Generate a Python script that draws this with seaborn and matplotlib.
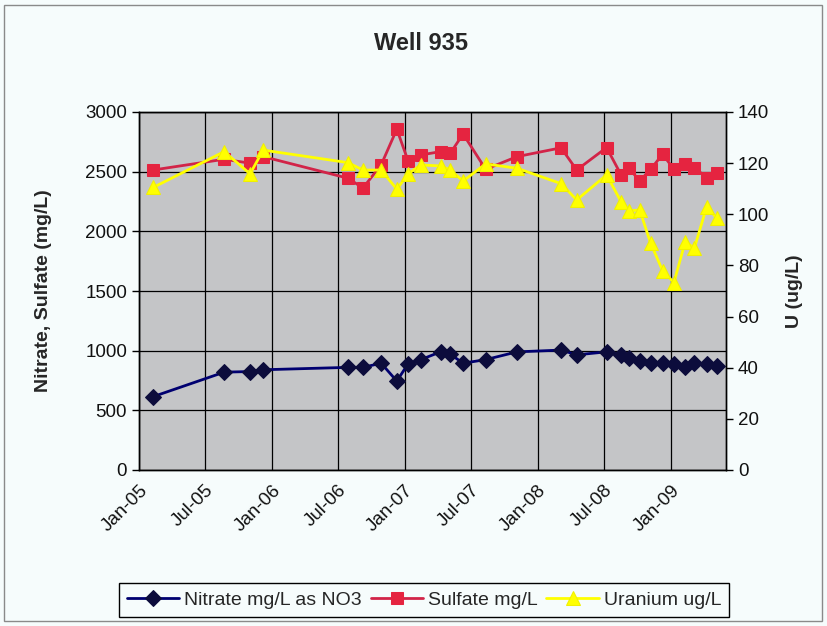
import matplotlib
matplotlib.use("Agg")
import matplotlib.pyplot as plt
import matplotlib.dates as mdates
from matplotlib.patches import Rectangle
import seaborn as sns
import pandas as pd

# Sampling dates for Well 935
sample_dates = [
    "2005-02-09", "2005-08-23", "2005-11-02", "2005-12-08",
    "2006-07-29", "2006-09-08", "2006-10-28", "2006-12-10",
    "2007-01-10", "2007-02-14", "2007-04-09", "2007-05-06",
    "2007-06-10", "2007-08-11", "2007-11-05", "2008-03-05",
    "2008-04-17", "2008-07-08", "2008-08-17", "2008-09-08",
    "2008-10-07", "2008-11-06", "2008-12-09", "2009-01-09",
    "2009-02-09", "2009-03-06", "2009-04-09", "2009-05-07",
]

# Concentrations (mg/L for nitrate and sulfate, ug/L for uranium)
nitrate = [615, 820, 825, 840, 860, 860, 895, 745, 890, 925, 990, 970,
           895, 925, 990, 1005, 965, 990, 965, 935, 915, 900, 900, 885,
           865, 900, 885, 870]
sulfate = [2514, 2604, 2571, 2626, 2445, 2363, 2557, 2856, 2590, 2640,
           2668, 2655, 2816, 2520, 2626, 2700, 2514, 2702, 2473, 2529,
           2422, 2520, 2646, 2520, 2565, 2534, 2450, 2487]
uranium = [110.5, 124.5, 115.8, 125.1, 120.2, 117.3, 117.3, 109.8, 115.8,
           119.3, 118.9, 117.3, 113.0, 119.7, 118.0, 112.0, 105.6, 115.4,
           104.9, 101.3, 101.7, 88.7, 77.9, 73.3, 89.3, 86.7, 103.0, 98.4]

series_labels = ["Nitrate mg/L as NO3", "Sulfate mg/L", "Uranium ug/L"]
left_ticks = [0, 500, 1000, 1500, 2000, 2500, 3000]
right_ticks = [0, 20, 40, 60, 80, 100, 120, 140]

df = pd.DataFrame({
    "date": pd.to_datetime(sample_dates),
    "nitrate": nitrate,
    "sulfate": sulfate,
    "uranium": uranium,
})

sns.set_style("white")
plt.rcParams["font.family"] = ["Liberation Sans", "DejaVu Sans"]

W, H = 828, 626
fig = plt.figure(figsize=(W / 100, H / 100), dpi=100)
fig.patch.set_facecolor("#f6fcfc")

# outer chart frame
fig.patches.append(Rectangle((4 / W, 1 - 621 / H), 818 / W, 616 / H,
                             transform=fig.transFigure, fill=False,
                             edgecolor="#8a8a8a", linewidth=1.0))

L, R, T, B = 139, 726, 112, 470
ax = fig.add_axes([L / W, 1 - B / H, (R - L) / W, (B - T) / H])
ax.set_facecolor("#c4c5c7")
ax2 = ax.twinx()

navy_line = "#000070"
navy_mark = "#0c0c3c"
red_line = "#d22448"
red_mark = "#e52440"
yellow = "#ffff00"

sns.lineplot(data=df, x="date", y="nitrate", ax=ax, color=navy_line,
             linewidth=2.0, marker="D", markersize=8,
             markerfacecolor=navy_mark, markeredgecolor=navy_mark,
             label=series_labels[0], zorder=4)
sns.lineplot(data=df, x="date", y="sulfate", ax=ax, color=red_line,
             linewidth=2.0, marker="s", markersize=8.5,
             markerfacecolor=red_mark, markeredgecolor=red_mark,
             label=series_labels[1], zorder=3)
sns.lineplot(data=df, x="date", y="uranium", ax=ax2, color=yellow,
             linewidth=2.0, marker="^", markersize=10,
             markerfacecolor=yellow, markeredgecolor="#f0f000",
             label=series_labels[2], zorder=5)

ax.set_xlim(pd.Timestamp("2005-01-01"), pd.Timestamp("2009-06-01"))
ax.set_ylim(0, 3000)
ax2.set_ylim(0, 140)
ax.set_yticks(left_ticks)
ax2.set_yticks(right_ticks)

ax.xaxis.set_major_locator(mdates.MonthLocator(bymonth=[1, 7]))
ax.xaxis.set_major_formatter(mdates.DateFormatter("%b-%y"))

ax.grid(True, color="black", linewidth=0.9)
ax.set_axisbelow(True)
ax2.grid(False)

for a in (ax, ax2):
    for s in a.spines.values():
        s.set_color("black")
        s.set_linewidth(1.0)

ax.tick_params(axis="both", which="major", direction="out", length=5,
               width=1, color="black", labelsize=13.5, labelcolor="#111111")
ax2.tick_params(axis="y", direction="out", length=5, width=1,
                color="black", labelsize=13.5, labelcolor="#111111")
for lbl in ax.get_xticklabels():
    lbl.set_rotation(45)
    lbl.set_ha("right")
    lbl.set_rotation_mode("anchor")

ax.set_xlabel("")
ax.set_ylabel("Nitrate, Sulfate (mg/L)", fontsize=14, fontweight="bold",
              labelpad=24)
ax2.set_ylabel("U (ug/L)", fontsize=14, fontweight="bold", labelpad=12)

fig.text(421 / W, 1 - 43 / H, "Well 935", ha="center", va="center",
         fontsize=17, fontweight="bold")

# single legend for all three series along the bottom
h1, l1 = ax.get_legend_handles_labels()
h2, l2 = ax2.get_legend_handles_labels()
for a in (ax, ax2):
    if a.get_legend() is not None:
        a.get_legend().remove()
leg = fig.legend(h1 + h2, l1 + l2, loc="center",
                 bbox_to_anchor=(424 / W, 1 - 600 / H), ncol=3,
                 frameon=True, fancybox=False, edgecolor="black",
                 facecolor="#f6fcfc", framealpha=1, fontsize=14,
                 handlelength=2.7, handletextpad=0.25, columnspacing=0.45,
                 borderpad=0.4)
leg.get_frame().set_linewidth(1.0)

fig.savefig("out.png", dpi=100, facecolor=fig.get_facecolor())
